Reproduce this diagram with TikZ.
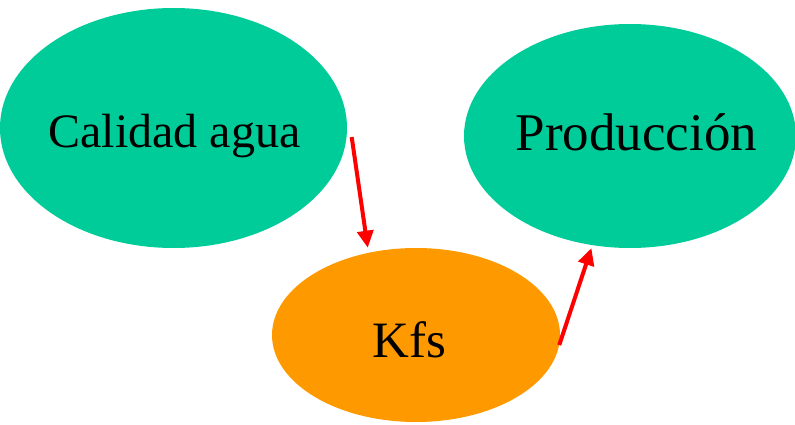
\documentclass[tikz,border=0pt]{standalone}
\usepackage{fontspec}
\setmainfont{Liberation Serif}
\usetikzlibrary{shapes.geometric,arrows.meta}
\definecolor{blobgreen}{RGB}{0,204,153}
\definecolor{bloborange}{RGB}{255,153,0}
\begin{document}
\begin{tikzpicture}[x=1pt,y=-1pt]
\useasboundingbox (0,0) rectangle (795,425);
\tikzset{blob/.style={ellipse,inner sep=0pt,draw=none}};
\node[blob,fill=blobgreen,minimum width=347pt,minimum height=240pt] (cal) at (173.5,128) {};
\node[blob,fill=blobgreen,minimum width=332pt,minimum height=224pt] (prod) at (630,136) {};
\node[blob,fill=bloborange,minimum width=288pt,minimum height=174pt] (kfs) at (416,335) {};

\node[anchor=base,inner sep=0pt,font=\fontsize{48}{58}\selectfont] (calT) at (174.5,147) {Calidad agua};
\node[anchor=base,inner sep=0pt,font=\fontsize{53}{64}\selectfont] (prodT) at (636.5,150) {Producción};
\node[anchor=base,inner sep=0pt,font=\fontsize{51}{61}\selectfont] (kfsT) at (409.5,357) {Kfs};

\tikzset{redarrow/.style={-{Triangle[length=17pt,width=16pt]},line width=4pt,red}};
\path ([xshift=5pt]cal.-3) edge [redarrow,shorten >=5pt] (kfs.120);
\path (kfs.-4) edge [redarrow,shorten >=3pt] (prod.251);
\end{tikzpicture}
\end{document}
